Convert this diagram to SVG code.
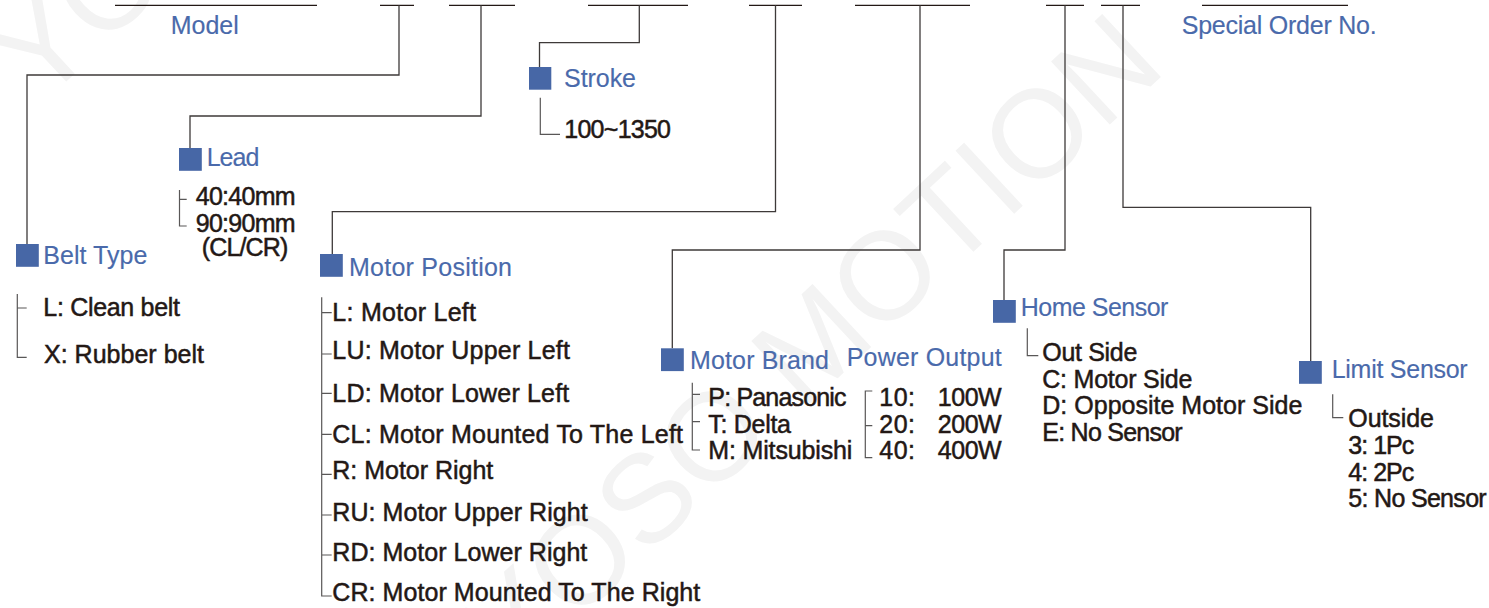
<svg xmlns="http://www.w3.org/2000/svg" width="1489" height="608" viewBox="0 0 1489 608">
  <style>
    .t { font-family: "Liberation Sans", Arial, sans-serif; font-size: 25px; fill: #231815; stroke: #231815; stroke-width: 0.5; }
    .b { fill: #4a6aab; stroke: #4a6aab; stroke-width: 0.15; }
    .sq { fill: #4767a6; }
    .top { stroke: #231815; stroke-width: 1.3; fill: none; }
    .con { fill: none; stroke: #3e3a39; stroke-width: 1.3; }
    .br { fill: none; stroke: #595757; stroke-width: 1.2; }
    .wm { font-family: "Liberation Sans", Arial, sans-serif; font-size: 125px; fill: #f3f3f3; }
  </style>
  <rect width="1489" height="608" fill="#ffffff"/>
  <g id="watermark">
    <text class="wm" transform="translate(513,681) rotate(-43)">YOSO MOTION</text>
    <text class="wm" transform="translate(40,106) rotate(-43)">YOSO MOTION</text>
  </g>

  <g id="code-lines">
    <path class="top" d="M115,5.3H317 M380,5.3H414 M449,5.3H515 M588,5.3H688 M749,5.3H802 M855,5.3H970 M1046,5.3H1084 M1101,5.3H1140 M1202,5.3H1348"/>
  </g>

  <g id="connectors">
    <path class="con" d="M399,5.3V75H27V244"/>
    <path class="con" d="M481,5.3V116H190V148"/>
    <path class="con" d="M639.3,5.3V42.7H539.5V67"/>
    <path class="con" d="M775.5,5.3V211.7H332.3V254"/>
    <path class="con" d="M920,5.3V250H672.3V348.3"/>
    <path class="con" d="M1065,5.3V250H1004V300"/>
    <path class="con" d="M1123,5.3V207.3H1310.7V361"/>
  </g>

  <g id="model">
    <text class="t b" x="170.7" y="33.7" textLength="68">Model</text>
  </g>
  <g id="special">
    <text class="t b" x="1181.7" y="33.7" textLength="195">Special Order No.</text>
  </g>

  <g id="belt">
    <rect class="sq" x="16" y="244" width="22.8" height="22.8"/>
    <text class="t b" x="43.3" y="263.7" textLength="104">Belt Type</text>
    <path class="br" d="M17.3,294V357.3H26.7 M17.3,308H26.7"/>
    <text class="t" x="43.3" y="315.7" textLength="136.7">L: Clean belt</text>
    <text class="t" x="44" y="362.7" textLength="160">X: Rubber belt</text>
  </g>

  <g id="lead">
    <rect class="sq" x="179" y="148" width="22.8" height="22.8"/>
    <text class="t b" x="206.7" y="166" textLength="52.6">Lead</text>
    <path class="br" d="M179.5,190V226H186.7 M179.5,199.3H186.7"/>
    <text class="t" x="195.7" y="205" textLength="100">40:40mm</text>
    <text class="t" x="195.7" y="232" textLength="100">90:90mm</text>
    <text class="t" x="201.7" y="256" textLength="86.7">(CL/CR)</text>
  </g>

  <g id="stroke">
    <rect class="sq" x="529" y="67" width="22.3" height="22.7"/>
    <text class="t b" x="564" y="87.3" textLength="72">Stroke</text>
    <path class="br" d="M540.3,97.7V134.3H560"/>
    <text class="t" x="564.3" y="137.5" textLength="106.7">100~1350</text>
  </g>

  <g id="motor-position">
    <rect class="sq" x="320" y="254" width="22.8" height="22.8"/>
    <text class="t b" x="349" y="276" textLength="163">Motor Position</text>
    <path class="br" d="M321.7,297.3V596H331.7 M321.7,312.7H331.7 M321.7,354H331.7 M321.7,393.3H331.7 M321.7,434.3H331.7 M321.7,474.3H331.7 M321.7,515H331.7 M321.7,555H331.7"/>
    <text class="t" x="332.3" y="320.7" textLength="143.7">L: Motor Left</text>
    <text class="t" x="332.3" y="359.3" textLength="237.7">LU: Motor Upper Left</text>
    <text class="t" x="332.3" y="402.3" textLength="237">LD: Motor Lower Left</text>
    <text class="t" x="332.3" y="442.7" textLength="350.7">CL: Motor Mounted To The Left</text>
    <text class="t" x="332.3" y="479.3" textLength="161">R: Motor Right</text>
    <text class="t" x="332.3" y="521" textLength="255.4">RU: Motor Upper Right</text>
    <text class="t" x="332.3" y="560.7" textLength="255">RD: Motor Lower Right</text>
    <text class="t" x="332.3" y="601" textLength="368">CR: Motor Mounted To The Right</text>
  </g>

  <g id="motor-brand">
    <rect class="sq" x="661" y="348.3" width="22.8" height="22.8"/>
    <text class="t b" x="690" y="369.3" textLength="139">Motor Brand</text>
    <path class="br" d="M692.3,382.7V450H700 M692.3,394.3H700 M692.3,421.7H700"/>
    <text class="t" x="708.3" y="405.7" textLength="138.3">P: Panasonic</text>
    <text class="t" x="708.3" y="433.3" textLength="82.7">T: Delta</text>
    <text class="t" x="708.3" y="459.3" textLength="144">M: Mitsubishi</text>
  </g>

  <g id="power-output">
    <text class="t b" x="846.7" y="366" textLength="155">Power Output</text>
    <path class="br" d="M872.3,391H865.3V457.7H872.3 M865.3,425.7H872.3"/>
    <text class="t" x="879.3" y="405.7" textLength="35.7">10:</text>
    <text class="t" x="937.7" y="405.7" textLength="64">100W</text>
    <text class="t" x="879.3" y="433.3" textLength="35.7">20:</text>
    <text class="t" x="937.7" y="433.3" textLength="64">200W</text>
    <text class="t" x="879.3" y="459.3" textLength="35.7">40:</text>
    <text class="t" x="937.7" y="459.3" textLength="64">400W</text>
  </g>

  <g id="home-sensor">
    <rect class="sq" x="993" y="300" width="22.8" height="22.8"/>
    <text class="t b" x="1020.7" y="316" textLength="147.7">Home Sensor</text>
    <path class="br" d="M1027.3,328.3V355.7H1038.3"/>
    <text class="t" x="1042.3" y="360.7" textLength="95">Out Side</text>
    <text class="t" x="1042.3" y="388.3" textLength="150">C: Motor Side</text>
    <text class="t" x="1042.3" y="414.3" textLength="260">D: Opposite Motor Side</text>
    <text class="t" x="1042.3" y="441" textLength="140.4">E: No Sensor</text>
  </g>

  <g id="limit-sensor">
    <rect class="sq" x="1299" y="361" width="22.8" height="22.8"/>
    <text class="t b" x="1331.7" y="378.3" textLength="136">Limit Sensor</text>
    <path class="br" d="M1332.7,394.3V417.7H1343.3"/>
    <text class="t" x="1348.3" y="426.7" textLength="85.7">Outside</text>
    <text class="t" x="1348.3" y="454" textLength="66">3: 1Pc</text>
    <text class="t" x="1348.3" y="480.7" textLength="66">4: 2Pc</text>
    <text class="t" x="1348.3" y="507.3" textLength="138.4">5: No Sensor</text>
  </g>
</svg>
